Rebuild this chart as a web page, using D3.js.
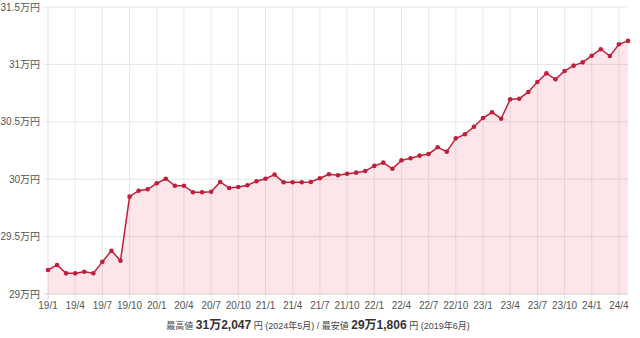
<!DOCTYPE html>
<html lang="ja">
<head>
<meta charset="utf-8">
<script src="https://cdn.jsdelivr.net/npm/d3@7"></script>
<style>
  html, body { margin: 0; padding: 0; background: #fff; }
  svg { display: block; font-family: "Liberation Sans", Arial, "Noto Sans CJK JP", sans-serif; }
</style>
</head>
<body>
<svg id="chart" width="640" height="338"></svg>
<script>
// Monthly average price (万円), January 2019 through May 2024
const startYear = 2019;
const startMonth = 1;
const prices = [
  29.209, 29.253, 29.180, 29.180, 29.194, 29.1806, 29.280, 29.377, 29.290, 29.848, 29.900, 29.912,
  29.964, 30.004, 29.943, 29.943, 29.886, 29.886, 29.891, 29.976, 29.923, 29.932, 29.947, 29.982,
  30.004, 30.040, 29.973, 29.973, 29.973, 29.976, 30.008, 30.043, 30.034, 30.048, 30.057, 30.071,
  30.116, 30.144, 30.091, 30.164, 30.182, 30.205, 30.220, 30.278, 30.240, 30.356, 30.391, 30.457,
  30.533, 30.583, 30.527, 30.696, 30.701, 30.760, 30.847, 30.922, 30.870, 30.943, 30.989, 31.018,
  31.076, 31.132, 31.073, 31.175, 31.2047
];
const yTicks = [29, 29.5, 30, 30.5, 31, 31.5];
const yTickLabels = ["29万円", "29.5万円", "30万円", "30.5万円", "31万円", "31.5万円"];
const xTickIndexes = d3.range(0, 64, 3);
const xTickLabels = ["19/1","19/4","19/7","19/10","20/1","20/4","20/7","20/10","21/1","21/4","21/7","21/10",
  "22/1","22/4","22/7","22/10","23/1","23/4","23/7","23/10","24/1","24/4"];
const summary = {
  highLabel: "最高値", highValue: "31万2,047", highDate: "(2024年5月)",
  lowLabel: "最安値", lowValue: "29万1,806", lowDate: "(2019年6月)"
};

const W = 640, H = 338;
const margin = { top: 7, right: 12, bottom: 44, left: 48 };
const svg = d3.select("#chart");

const x = d3.scaleLinear().domain([0, prices.length - 1]).range([margin.left, W - margin.right]);
const y = d3.scaleLinear().domain([29, 31.5]).range([H - margin.bottom, margin.top]);

// horizontal grid
svg.append("g")
  .selectAll("line").data(yTicks).join("line")
  .attr("x1", margin.left - 4).attr("x2", W - margin.right)
  .attr("y1", d => y(d)).attr("y2", d => y(d))
  .attr("stroke", "#e6e6e6").attr("stroke-width", 1);

// vertical grid
svg.append("g")
  .selectAll("line").data(xTickIndexes).join("line")
  .attr("x1", d => x(d)).attr("x2", d => x(d))
  .attr("y1", margin.top).attr("y2", H - margin.bottom + 6)
  .attr("stroke", (d, i) => i === 0 ? "#dcdcdc" : "#e8e8e8").attr("stroke-width", 1);

// area fill
const area = d3.area()
  .x((d, i) => x(i)).y0(y(29)).y1(d => y(d));
svg.append("path").datum(prices)
  .attr("d", area)
  .attr("fill", "rgba(228, 60, 90, 0.13)");

// x axis baseline
svg.append("line")
  .attr("x1", margin.left - 4).attr("x2", W - margin.right)
  .attr("y1", y(29)).attr("y2", y(29))
  .attr("stroke", "#dddddd");

// line and points
const line = d3.line().x((d, i) => x(i)).y(d => y(d));
svg.append("path").datum(prices)
  .attr("d", line)
  .attr("fill", "none")
  .attr("stroke", "#c01f3c")
  .attr("stroke-width", 1.5);
svg.append("g")
  .selectAll("circle").data(prices).join("circle")
  .attr("cx", (d, i) => x(i)).attr("cy", d => y(d))
  .attr("r", 2.3).attr("fill", "#c01f3c");

// y tick labels
svg.append("g")
  .selectAll("text").data(yTicks).join("text")
  .attr("x", margin.left - 8).attr("y", d => y(d))
  .attr("dy", "0.35em").attr("text-anchor", "end")
  .attr("font-size", 10).attr("fill", "#555")
  .text((d, i) => yTickLabels[i]);

// x tick labels
svg.append("g")
  .selectAll("text").data(xTickIndexes).join("text")
  .attr("x", d => x(d)).attr("y", H - margin.bottom + 15)
  .attr("text-anchor", "middle")
  .attr("font-size", 10).attr("fill", "#555")
  .text((d, i) => xTickLabels[i]);

// summary line
const s = svg.append("text")
  .attr("x", 318).attr("y", 329)
  .attr("text-anchor", "middle")
  .attr("fill", "#444").attr("font-size", 9);
s.append("tspan").text(summary.highLabel + " ");
s.append("tspan").attr("font-size", 12).attr("font-weight", "bold").attr("fill", "#333").text(summary.highValue);
s.append("tspan").text(" 円 " + summary.highDate + " / " + summary.lowLabel + " ");
s.append("tspan").attr("font-size", 12).attr("font-weight", "bold").attr("fill", "#333").text(summary.lowValue);
s.append("tspan").text(" 円 " + summary.lowDate);
</script>
</body>
</html>
